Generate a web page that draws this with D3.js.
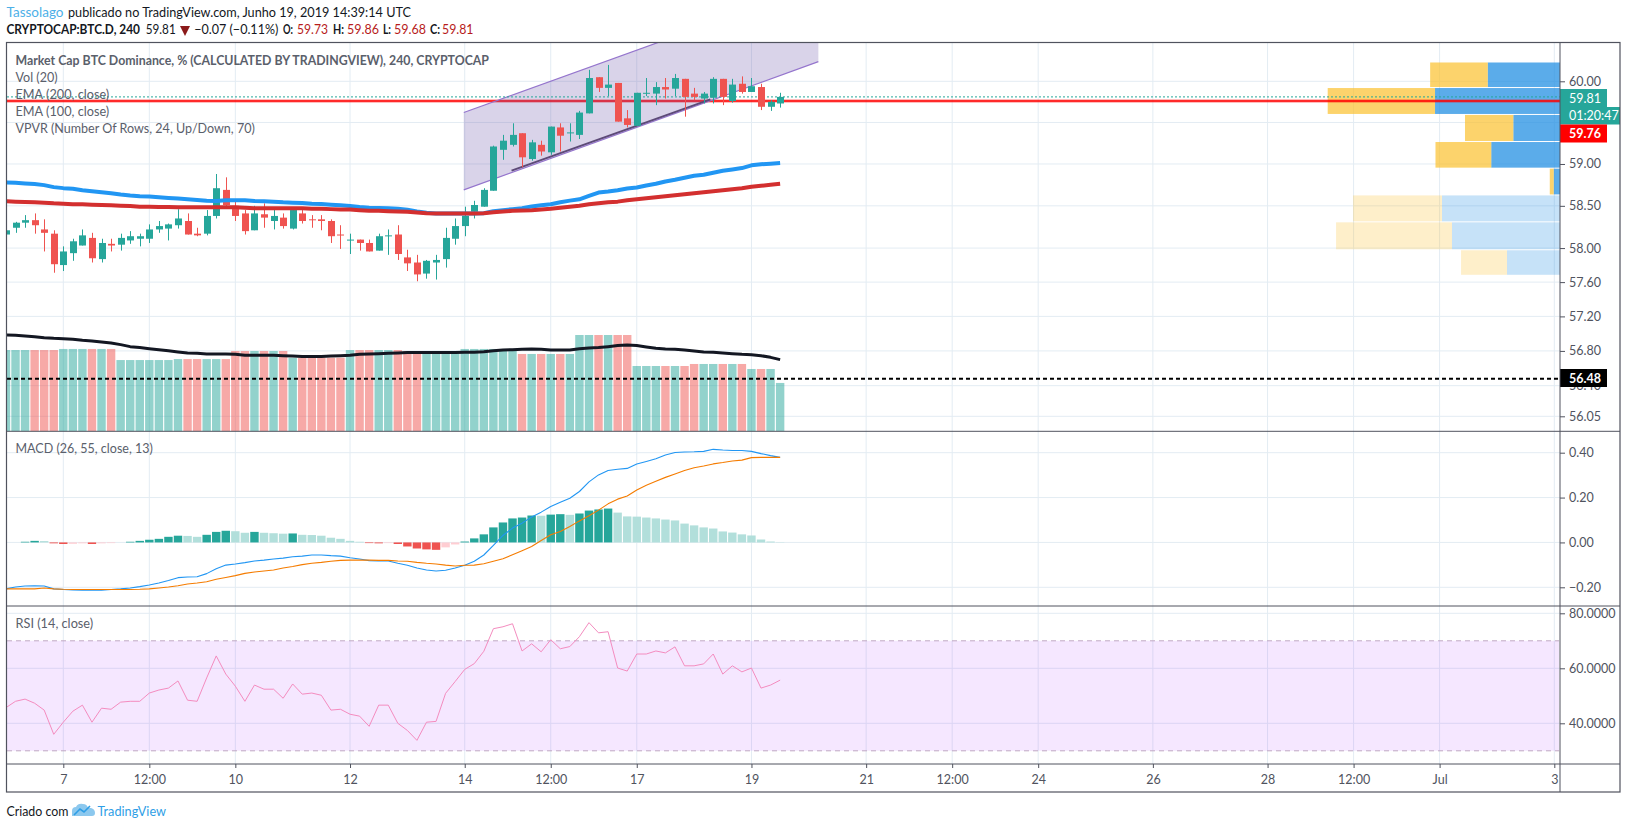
<!DOCTYPE html>
<html>
<head>
<meta charset="utf-8">
<style>
  html, body { margin: 0; padding: 0; background: #fff; }
  text { font-family: Lato, "Open Sans", sans-serif; }
</style>
<script src="https://cdn.jsdelivr.net/npm/d3@7"></script>
</head>
<body>
<div id="chart"></div>
<script>
// 4h bars, first one is Jun 6 2019 00:00 UTC
const opens = [58.16,58.24,58.30,58.33,58.22,58.17,57.80,57.94,58.03,58.12,57.87,58.05,58.04,58.09,58.11,58.11,58.22,58.23,58.27,58.32,58.17,58.17,58.38,58.69,58.50,58.41,58.21,58.40,58.32,58.36,58.23,58.41,58.34,58.34,58.32,58.16,58.09,58.10,58.06,57.97,58.14,58.16,57.89,57.83,57.70,57.83,57.87,58.11,58.26,58.43,58.49,58.68,59.17,59.23,59.37,59.06,59.23,59.14,59.44,59.37,59.35,59.61,60.05,59.92,59.98,59.55,59.46,59.85,59.85,59.93,59.91,60.03,59.85,59.79,59.80,60.03,59.76,59.97,59.87,59.93,59.69,59.73];
const highs = [58.23,58.31,58.39,58.41,58.34,58.21,58.02,58.11,58.22,58.18,58.11,58.11,58.17,58.20,58.17,58.28,58.32,58.29,58.46,58.41,58.24,58.45,58.88,58.84,58.57,58.45,58.50,58.53,58.45,58.41,58.45,58.45,58.39,58.39,58.34,58.27,58.17,58.10,58.10,58.17,58.22,58.27,57.98,57.92,57.86,57.92,58.24,58.35,58.49,58.56,58.71,59.22,59.35,59.49,59.37,59.29,59.28,59.45,59.49,59.49,59.64,60.14,60.05,60.20,59.98,59.65,59.86,60.04,59.99,60.04,60.09,60.03,59.92,59.87,60.05,60.03,60.03,60.06,60.04,59.97,59.77,59.86];
const lows = [58.12,58.18,58.24,58.17,57.96,57.71,57.73,57.85,58.03,57.83,57.83,57.96,57.97,58.05,58.02,58.06,58.18,58.09,58.23,58.16,58.14,58.15,58.35,58.50,58.32,58.16,58.21,58.24,58.22,58.23,58.22,58.29,58.24,58.21,58.06,57.99,57.93,57.97,57.96,57.97,57.92,57.86,57.73,57.61,57.64,57.63,57.77,58.04,58.14,58.35,58.49,58.68,59.05,59.21,58.96,59.04,59.10,59.11,59.15,59.27,59.30,59.61,59.87,59.82,59.51,59.44,59.46,59.82,59.71,59.79,59.82,59.57,59.77,59.73,59.73,59.71,59.74,59.85,59.87,59.65,59.64,59.68];
const closes = [58.21,58.30,58.33,58.27,58.18,57.81,57.96,58.08,58.15,57.88,58.06,58.03,58.12,58.14,58.14,58.22,58.26,58.28,58.35,58.16,58.15,58.38,58.71,58.51,58.38,58.20,58.41,58.36,58.38,58.26,58.45,58.32,58.33,58.32,58.14,58.15,58.10,58.06,57.96,58.14,58.15,57.93,57.82,57.69,57.85,57.86,58.12,58.26,58.38,58.51,58.69,59.21,59.28,59.35,59.08,59.26,59.15,59.45,59.34,59.38,59.62,60.04,59.92,59.96,59.51,59.47,59.86,59.86,59.93,59.90,60.04,59.81,59.81,59.85,60.03,59.81,59.96,59.87,59.94,59.69,59.75,59.81];

const ema100 = [58.779,58.775,58.767,58.759,58.747,58.723,58.711,58.703,58.686,58.674,58.662,58.650,58.634,58.622,58.614,58.610,58.602,58.594,58.586,58.578,58.570,58.562,58.558,58.566,58.566,58.566,58.558,58.554,58.550,58.542,58.538,58.534,58.526,58.522,58.514,58.506,58.498,58.486,58.478,58.474,58.470,58.466,58.453,58.433,58.417,58.409,58.409,58.409,58.409,58.409,58.413,58.437,58.449,58.461,58.473,58.493,58.506,58.518,58.542,58.562,58.578,58.618,58.658,58.670,58.686,58.706,58.718,58.743,58.763,58.791,58.811,58.835,58.859,58.871,58.895,58.919,58.935,58.951,58.984,58.996,59.004,59.012];
const ema200 = [58.554,58.550,58.546,58.542,58.538,58.530,58.526,58.518,58.518,58.514,58.510,58.506,58.502,58.498,58.490,58.490,58.486,58.486,58.482,58.482,58.482,58.482,58.482,58.482,58.482,58.478,58.470,58.470,58.470,58.470,58.470,58.470,58.466,58.466,58.461,58.457,58.457,58.449,58.441,58.441,58.437,58.433,58.429,58.421,58.413,58.409,58.409,58.409,58.409,58.409,58.413,58.425,58.433,58.441,58.445,58.449,58.457,58.465,58.477,58.489,58.502,58.518,58.530,58.542,58.550,58.566,58.578,58.590,58.602,58.614,58.626,58.638,58.650,58.662,58.674,58.686,58.698,58.710,58.727,58.739,58.751,58.763];

// no volume axis on the chart, so these are relative units (tallest bar = 100)
const volumes = [84.4,84.4,84.4,84.4,84.4,84.4,85.5,85.5,85.5,85.5,85.5,85.5,74,74,74,74,74,74,75,75,75,75,75,75,83.4,83.4,83.4,83.4,83.4,83.4,76.4,76.4,76.4,76.4,76.4,76.4,84.4,84.4,84.4,84.4,84.4,84.4,83.4,83.4,83.4,83.4,83.4,83.4,85.5,85.5,85.5,85.5,85.5,85.5,80.3,80.3,80.3,80.3,80.3,80.3,100,100,100,100,100,100,67.8,67.8,67.8,67.8,67.8,67.8,69.9,69.9,69.9,69.9,69.9,69.9,64.7,64.7,64.7,50.2];
const volumeMa = [100,99.7,99,98.3,97.2,96.5,96.2,95.5,94.5,93.8,92.7,91.7,90,87.9,86.9,85.8,84.8,83.7,82.4,81.3,81,80.3,80.3,80.3,79.9,78.9,78.9,78.9,78.9,78.5,78.2,77.8,77.8,77.8,78.2,78.5,78.9,79.9,80.3,80.6,81,81.3,81.7,81.7,81.7,81.7,81.7,81.7,82,82,82.7,83.7,84.4,84.8,85.1,85.5,85.1,84.4,84.4,84.4,85.8,86.5,86.9,87.9,89,89.6,89,87.5,86.2,85.5,85.1,84.4,83.4,82.4,82,81.3,80.6,79.9,79.6,78.5,76.8,74.4];

const macdHist = [0,0,0.003,0.007,0.006,-0.004,-0.007,-0.006,-0.004,-0.007,-0.004,-0.003,0,0.003,0.007,0.012,0.016,0.025,0.030,0.029,0.025,0.034,0.047,0.052,0.050,0.043,0.047,0.043,0.041,0.039,0.040,0.034,0.033,0.030,0.021,0.016,0.007,0.003,-0.003,-0.004,-0.003,-0.007,-0.018,-0.027,-0.031,-0.033,-0.022,-0.009,0.004,0.018,0.036,0.067,0.089,0.107,0.111,0.120,0.119,0.124,0.126,0.123,0.129,0.142,0.147,0.151,0.133,0.116,0.115,0.111,0.107,0.102,0.098,0.084,0.076,0.067,0.062,0.049,0.044,0.036,0.031,0.013,0.004,0.001];
const macdLine = [-0.207,-0.199,-0.194,-0.193,-0.194,-0.207,-0.210,-0.212,-0.213,-0.213,-0.213,-0.210,-0.207,-0.203,-0.197,-0.190,-0.181,-0.170,-0.157,-0.154,-0.153,-0.139,-0.117,-0.101,-0.096,-0.090,-0.083,-0.079,-0.074,-0.070,-0.064,-0.061,-0.056,-0.056,-0.059,-0.061,-0.068,-0.074,-0.081,-0.083,-0.083,-0.093,-0.102,-0.114,-0.123,-0.127,-0.124,-0.114,-0.102,-0.084,-0.056,-0.013,0.031,0.064,0.086,0.113,0.135,0.160,0.179,0.197,0.227,0.270,0.301,0.321,0.326,0.330,0.350,0.361,0.373,0.390,0.401,0.403,0.404,0.406,0.415,0.412,0.410,0.410,0.406,0.396,0.387,0.379];
const macdSignal = [-0.207,-0.207,-0.207,-0.207,-0.203,-0.207,-0.209,-0.210,-0.210,-0.210,-0.210,-0.210,-0.210,-0.210,-0.209,-0.207,-0.203,-0.199,-0.193,-0.185,-0.181,-0.175,-0.164,-0.156,-0.148,-0.138,-0.132,-0.127,-0.123,-0.114,-0.107,-0.099,-0.093,-0.089,-0.084,-0.080,-0.079,-0.079,-0.079,-0.080,-0.080,-0.083,-0.084,-0.089,-0.093,-0.096,-0.101,-0.105,-0.102,-0.101,-0.095,-0.084,-0.073,-0.055,-0.037,-0.018,0.009,0.034,0.049,0.071,0.096,0.119,0.144,0.172,0.193,0.207,0.234,0.255,0.273,0.290,0.305,0.321,0.333,0.341,0.350,0.356,0.363,0.367,0.378,0.379,0.379,0.379];

const rsi = [45.7,48.0,48.8,47.3,44.8,36.0,40.4,44.4,46.6,40.4,45.5,45.1,47.7,48.0,48.0,51.0,52.1,52.8,55.4,48.4,48.0,56.5,64.5,57.9,53.5,48.0,53.9,52.4,52.4,49.1,54.3,50.6,51.0,50.2,44.8,45.1,43.3,42.6,38.9,46.6,46.6,40.0,37.4,33.8,40.4,40.7,50.9,55.2,59.6,61.7,66.2,74.4,75.1,76.2,66.3,68.9,66.0,70.4,67.1,67.9,71.5,76.6,72.9,73.3,60.1,59.0,65.2,65.2,66.3,65.6,67.8,60.9,60.9,61.6,65.2,57.9,60.9,58.7,60.1,52.8,53.9,55.7];

// volume profile, top row first, relative units (biggest row = 100)
const vpEdges = [60.236,59.924,59.597,59.27,58.95,58.63,58.31,57.98,57.68];
const vpUp = [31.1,53.8,20.1,29.6,2.7,50.8,46.5,22.8];
const vpDown = [24.8,46.2,20.8,24.0,1.7,38.3,49.9,19.8];
const vpInValueArea = [true,true,true,true,true,false,false,false];

// drawings, position given as bar number from the first bar
const channelBars = [47.9, 85];
const channelLower = [58.69, 60.24];
const channelUpper = [59.62, 61.19];
const trendBars = [52.9, 73.7];
const trendPrices = [58.92, 59.78];

const priceTicks = [60, 59.5, 59, 58.5, 58, 57.6, 57.2, 56.8, 56.4, 56.05];
const coveredPriceTicks = [59.5]; // sits under the price tags, only its grid line shows
const macdTicks = [0.4, 0.2, 0, -0.2];
const rsiTicks = [80, 60, 40];
const timeTickDates = ["2019-06-07","2019-06-08T12:00Z","2019-06-10","2019-06-12","2019-06-14","2019-06-15T12:00Z","2019-06-17","2019-06-19","2019-06-21","2019-06-22T12:00Z","2019-06-24","2019-06-26","2019-06-28","2019-06-29T12:00Z","2019-07-01","2019-07-03"].map((d) => new Date(d));
const timeTickLabels = ["7","12:00","10","12","14","12:00","17","19","21","12:00","24","26","28","12:00","Jul","3"];

const lastPrice = 59.81;
const alertPrice = 59.76;
const lastVolumeLevel = 56.48;

const width = 1627;
const height = 829;
const plotLeft = 7;
const plotRight = 1560;
const frameRight = 1620;
const paneTop = 43;
const mainBottom = 431.3;
const macdBottom = 606;
const rsiBottom = 764;
const frameBottom = 792;
const FRAME = "#50535e";
const GRID = "#e3ecf3";
const TEXT = "#50535e";
const UP = "#26a69a";
const DOWN = "#ef5350";

const FIRST_BAR = Date.UTC(2019, 5, 6);
const BAR_MS = 4 * 3600 * 1000;
const barTime = (k) => new Date(FIRST_BAR + k * BAR_MS);

const x = d3.scaleUtc()
  .domain([new Date("2019-06-07"), new Date("2019-07-03")])
  .range([63.3, 1554.3]);
const barX = (k) => x(barTime(k));
const barStep = barX(1) - barX(0);

const yPrice = d3.scaleLog().domain([56.05, 60]).range([416.3, 81.3]);
const yVolume = d3.scaleLinear().domain([0, 100]).range([mainBottom, 335]);
const yMacd = d3.scaleLinear().domain([-0.2, 0.4]).range([587.3, 452.7]);
const yRsi = d3.scaleLinear().domain([40, 80]).range([723.3, 613.3]);
const vpWidth = d3.scaleLinear().domain([0, 100]).range([0, 232.3]);

const svg = d3.select("#chart").append("svg")
  .attr("width", width)
  .attr("height", height)
  .attr("viewBox", `0 0 ${width} ${height}`)
  .style("display", "block")
  .style("background", "#fff");

const defs = svg.append("defs");
function addClip(id, top, bottom) {
  defs.append("clipPath").attr("id", id).append("rect")
    .attr("x", plotLeft).attr("y", top)
    .attr("width", plotRight - plotLeft).attr("height", bottom - top);
}
addClip("clip-main", paneTop, mainBottom);
addClip("clip-macd", mainBottom, macdBottom);
addClip("clip-rsi", macdBottom, rsiBottom);

const gGrid = svg.append("g");
const gMain = svg.append("g").attr("clip-path", "url(#clip-main)");
const gMacd = svg.append("g").attr("clip-path", "url(#clip-macd)");
const gRsi = svg.append("g").attr("clip-path", "url(#clip-rsi)");
const gAxes = svg.append("g");
const gText = svg.append("g");

// grid
[[priceTicks, yPrice], [macdTicks, yMacd], [rsiTicks, yRsi]].forEach(([ticks, scale]) => {
  gGrid.selectAll(null).data(ticks).join("line")
    .attr("x1", plotLeft).attr("x2", plotRight)
    .attr("y1", (d) => scale(d)).attr("y2", (d) => scale(d))
    .attr("stroke", GRID).attr("stroke-width", 1);
});
gGrid.selectAll(null).data(timeTickDates).join("line")
  .attr("x1", (d) => x(d)).attr("x2", (d) => x(d))
  .attr("y1", paneTop).attr("y2", rsiBottom)
  .attr("stroke", GRID).attr("stroke-width", 1);

// volume bars
const barIndex = d3.range(closes.length);
const isUp = (k) => closes[k] >= opens[k];
gMain.append("g").selectAll("rect").data(barIndex).join("rect")
  .attr("x", (k) => barX(k) - barStep * 0.44)
  .attr("width", barStep * 0.88)
  .attr("y", (k) => yVolume(volumes[k]))
  .attr("height", (k) => mainBottom - yVolume(volumes[k]))
  .attr("fill", (k) => (isUp(k) ? UP : DOWN))
  .attr("fill-opacity", 0.5);

// volume profile
const vpRows = d3.range(vpUp.length);
const vpGroup = gMain.append("g");
vpGroup.selectAll(null).data(vpRows).join("rect")
  .attr("x", (r) => plotRight - vpWidth(vpUp[r]))
  .attr("width", (r) => vpWidth(vpUp[r]))
  .attr("y", (r) => yPrice(vpEdges[r]) + 0.5)
  .attr("height", (r) => yPrice(vpEdges[r + 1]) - yPrice(vpEdges[r]) - 1)
  .attr("fill", "#1c8ce2")
  .attr("fill-opacity", (r) => (vpInValueArea[r] ? 0.72 : 0.25));
vpGroup.selectAll(null).data(vpRows).join("rect")
  .attr("x", (r) => plotRight - vpWidth(vpUp[r]) - vpWidth(vpDown[r]))
  .attr("width", (r) => vpWidth(vpDown[r]))
  .attr("y", (r) => yPrice(vpEdges[r]) + 0.5)
  .attr("height", (r) => yPrice(vpEdges[r + 1]) - yPrice(vpEdges[r]) - 1)
  .attr("fill", "#fbc02d")
  .attr("fill-opacity", (r) => (vpInValueArea[r] ? 0.7 : 0.25));

// horizontal price line, channel goes on top of it
function hLine(group, y, color, w, dash) {
  return group.append("line")
    .attr("x1", plotLeft).attr("x2", plotRight)
    .attr("y1", y).attr("y2", y)
    .attr("stroke", color).attr("stroke-width", w)
    .attr("stroke-dasharray", dash || null);
}
hLine(gMain, yPrice(alertPrice), "#ff0000", 3.4).attr("stroke-opacity", 0.35);
hLine(gMain, yPrice(alertPrice), "#ff0000", 1.6);

// parallel channel
const channelPts = [
  [barX(channelBars[0]), yPrice(channelUpper[0])],
  [barX(channelBars[1]), yPrice(channelUpper[1])],
  [barX(channelBars[1]), yPrice(channelLower[1])],
  [barX(channelBars[0]), yPrice(channelLower[0])],
];
gMain.append("path")
  .attr("d", d3.line()(channelPts) + "Z")
  .attr("fill", "#674ea7")
  .attr("fill-opacity", 0.25);
[[0, 1], [3, 2]].forEach(([a, b]) => {
  gMain.append("path")
    .attr("d", d3.line()([channelPts[a], channelPts[b]]))
    .attr("fill", "none")
    .attr("stroke", "#9575cd")
    .attr("stroke-width", 1.2);
});
gMain.append("path")
  .attr("d", d3.line()(trendBars.map((b, i) => [barX(b), yPrice(trendPrices[i])])))
  .attr("fill", "none")
  .attr("stroke", "#5d4a78")
  .attr("stroke-width", 2);

// last price + last volume lines
hLine(gMain, yPrice(lastPrice), UP, 1, "2 2");
hLine(gMain, yPrice(lastVolumeLevel), "#000", 2, "4 3");

// volume MA
const seriesLine = (scale) => d3.line().x((d, k) => barX(k)).y((d) => scale(d));
function drawSeries(group, values, scale, color, w) {
  group.append("path")
    .attr("d", seriesLine(scale)(values))
    .attr("fill", "none")
    .attr("stroke", color)
    .attr("stroke-width", w)
    .attr("stroke-linejoin", "round");
}
drawSeries(gMain, volumeMa, yVolume, "#131722", 3);

// candles
const candles = gMain.append("g").selectAll("g").data(barIndex).join("g");
candles.append("line")
  .attr("x1", (k) => Math.round(barX(k)) + 0.5)
  .attr("x2", (k) => Math.round(barX(k)) + 0.5)
  .attr("y1", (k) => yPrice(highs[k]))
  .attr("y2", (k) => yPrice(lows[k]))
  .attr("stroke", (k) => (isUp(k) ? UP : DOWN));
candles.append("rect")
  .attr("x", (k) => Math.round(barX(k)) - 3)
  .attr("width", 7)
  .attr("y", (k) => yPrice(Math.max(opens[k], closes[k])))
  .attr("height", (k) => Math.max(1, yPrice(Math.min(opens[k], closes[k])) - yPrice(Math.max(opens[k], closes[k]))))
  .attr("fill", (k) => (isUp(k) ? UP : DOWN));

drawSeries(gMain, ema100, yPrice, "#2196f3", 4);
drawSeries(gMain, ema200, yPrice, "#d32f2f", 4);

// MACD pane
const histColor = (k) => {
  const v = macdHist[k];
  const prev = k > 0 ? macdHist[k - 1] : 0;
  if (v >= 0) return v > prev ? UP : "#b2dfdb";
  return v < prev ? DOWN : "#ffcdd2";
};
gMacd.append("g").selectAll("rect").data(barIndex).join("rect")
  .attr("x", (k) => barX(k) - barStep * 0.44)
  .attr("width", barStep * 0.88)
  .attr("y", (k) => Math.min(yMacd(macdHist[k]), yMacd(0)))
  .attr("height", (k) => Math.abs(yMacd(macdHist[k]) - yMacd(0)))
  .attr("fill", histColor);
drawSeries(gMacd, macdLine, yMacd, "#2196f3", 1.1);
drawSeries(gMacd, macdSignal, yMacd, "#f57c00", 1.1);

// RSI pane
gRsi.append("rect")
  .attr("x", plotLeft).attr("width", plotRight - plotLeft - 1)
  .attr("y", yRsi(70)).attr("height", yRsi(30) - yRsi(70))
  .attr("fill", "#9915ff").attr("fill-opacity", 0.1);
[70, 30].forEach((level) => {
  gRsi.append("line")
    .attr("x1", plotLeft).attr("x2", plotRight - 1)
    .attr("y1", yRsi(level)).attr("y2", yRsi(level))
    .attr("stroke", "#bfa9c4").attr("stroke-dasharray", "5 4");
});
drawSeries(gRsi, rsi, yRsi, "#f48cbf", 1);

// axes
function styleAxis(g) {
  g.select(".domain").remove();
  g.selectAll("line").attr("stroke", FRAME);
  g.selectAll("text")
    .attr("fill", TEXT)
    .style("font-family", "Lato, sans-serif")
    .style("font-size", "12.5px");
}
const priceFormat = (d) => (coveredPriceTicks.includes(d) ? "" : d3.format(".2f")(d));
[[yPrice, priceTicks, priceFormat], [yMacd, macdTicks, d3.format(".2f")], [yRsi, rsiTicks, d3.format(".4f")]].forEach(([scale, ticks, fmt]) => {
  gAxes.append("g")
    .attr("transform", `translate(${plotRight},0)`)
    .call(d3.axisRight(scale).tickValues(ticks).tickFormat(fmt).tickSize(5).tickPadding(4))
    .call(styleAxis);
});
gAxes.append("g")
  .attr("transform", `translate(0,${rsiBottom})`)
  .call(d3.axisBottom(x).tickValues(timeTickDates).tickFormat((d, i) => timeTickLabels[i]).tickSize(4).tickPadding(7))
  .call(styleAxis);

// price tags on the right axis
function priceTag(yTop, h, w, color, label, bold) {
  gAxes.append("rect")
    .attr("x", plotRight).attr("y", yTop)
    .attr("width", w).attr("height", h)
    .attr("fill", color);
  gAxes.append("text")
    .attr("x", plotRight + 9).attr("y", yTop + h / 2 + 4.5)
    .attr("fill", "#fff")
    .attr("font-size", 12.5)
    .attr("font-weight", bold ? 700 : 400)
    .text(label);
}
priceTag(89, 18, 47, UP, lastPrice.toFixed(2), false);
priceTag(107, 17.5, 60, UP, "01:20:47", false);
priceTag(124.5, 18, 47, "#ff0000", alertPrice.toFixed(2), true);
priceTag(369, 18, 47, "#000", lastVolumeLevel.toFixed(2), true);

// frame
const frame = gAxes.append("g").attr("stroke", FRAME).attr("fill", "none");
frame.append("rect")
  .attr("x", 6.5).attr("y", paneTop - 0.5)
  .attr("width", frameRight - 6.5).attr("height", frameBottom - paneTop + 0.5)
  .attr("stroke-width", 1.2);
[mainBottom, macdBottom, rsiBottom].forEach((y) => {
  frame.append("line").attr("x1", 6.5).attr("x2", frameRight).attr("y1", y).attr("y2", y);
});
frame.append("line").attr("x1", plotRight).attr("x2", plotRight).attr("y1", paneTop).attr("y2", frameBottom);

// header and legends; the original font is narrower than Lato, so widths are fixed
function label(xPos, y, str, len, opts = {}) {
  gText.append("text")
    .attr("x", xPos).attr("y", y)
    .attr("fill", opts.color || "#131722")
    .attr("font-size", 13)
    .attr("font-weight", opts.weight || 400)
    .attr("textLength", len)
    .attr("lengthAdjust", "spacingAndGlyphs")
    .text(str);
}
label(6.5, 17, "Tassolago", 57, { color: "#4db0e8" });
label(68, 17, "publicado no TradingView.com, Junho 19, 2019 14:39:14 UTC", 343);
label(6.5, 34, "CRYPTOCAP:BTC.D, 240", 133.5, { weight: 700 });
label(145.7, 34, "59.81", 30);
gText.append("path")
  .attr("d", d3.line()([[180, 26], [190, 26], [185, 36]]) + "Z")
  .attr("fill", "#8b1a1a");
label(194.3, 34, "−0.07 (−0.11%)", 84);
const DARK_RED = "#b71c1c";
[["O:", 283, 10, "59.73", 297, 31], ["H:", 333, 11, "59.86", 347, 32], ["L:", 383, 8, "59.68", 394, 32], ["C:", 430, 10, "59.81", 442, 31.5]].forEach(([k, kx, kw, v, vx, vw]) => {
  label(kx, 34, k, kw, { weight: 700 });
  label(vx, 34, v, vw, { color: DARK_RED });
});

const LEGEND = "#5a606b";
label(15.5, 65, "Market Cap BTC Dominance, % (CALCULATED BY TRADINGVIEW), 240, CRYPTOCAP", 473.5, { color: LEGEND, weight: 700 });
label(15.5, 82, "Vol (20)", 42, { color: LEGEND });
label(15.5, 99, "EMA (200, close)", 93.7, { color: LEGEND });
label(15.5, 116, "EMA (100, close)", 93.7, { color: LEGEND });
label(15.5, 133, "VPVR (Number Of Rows, 24, Up/Down, 70)", 239.3, { color: LEGEND });
label(15.5, 453, "MACD (26, 55, close, 13)", 137.3, { color: LEGEND });
label(15.5, 628, "RSI (14, close)", 77.7, { color: LEGEND });

// footer
label(6.5, 816, "Criado com", 62);
gText.append("path")
  .attr("d", "M72 816 L72 811 Q72 807 76 807 Q78 803 83 804 Q87 804 88 808 L91 808 Q95 809 95 813 Q95 816 92 816 Z")
  .attr("fill", "#8cc8ee");
gText.append("path")
  .attr("d", d3.line()([[74, 815], [80, 809], [84, 812], [90, 806]]))
  .attr("fill", "none").attr("stroke", "#2e9ee6").attr("stroke-width", 1.6);
label(97.5, 816, "TradingView", 68.5, { color: "#2e9ee6" });
</script>
</body>
</html>
